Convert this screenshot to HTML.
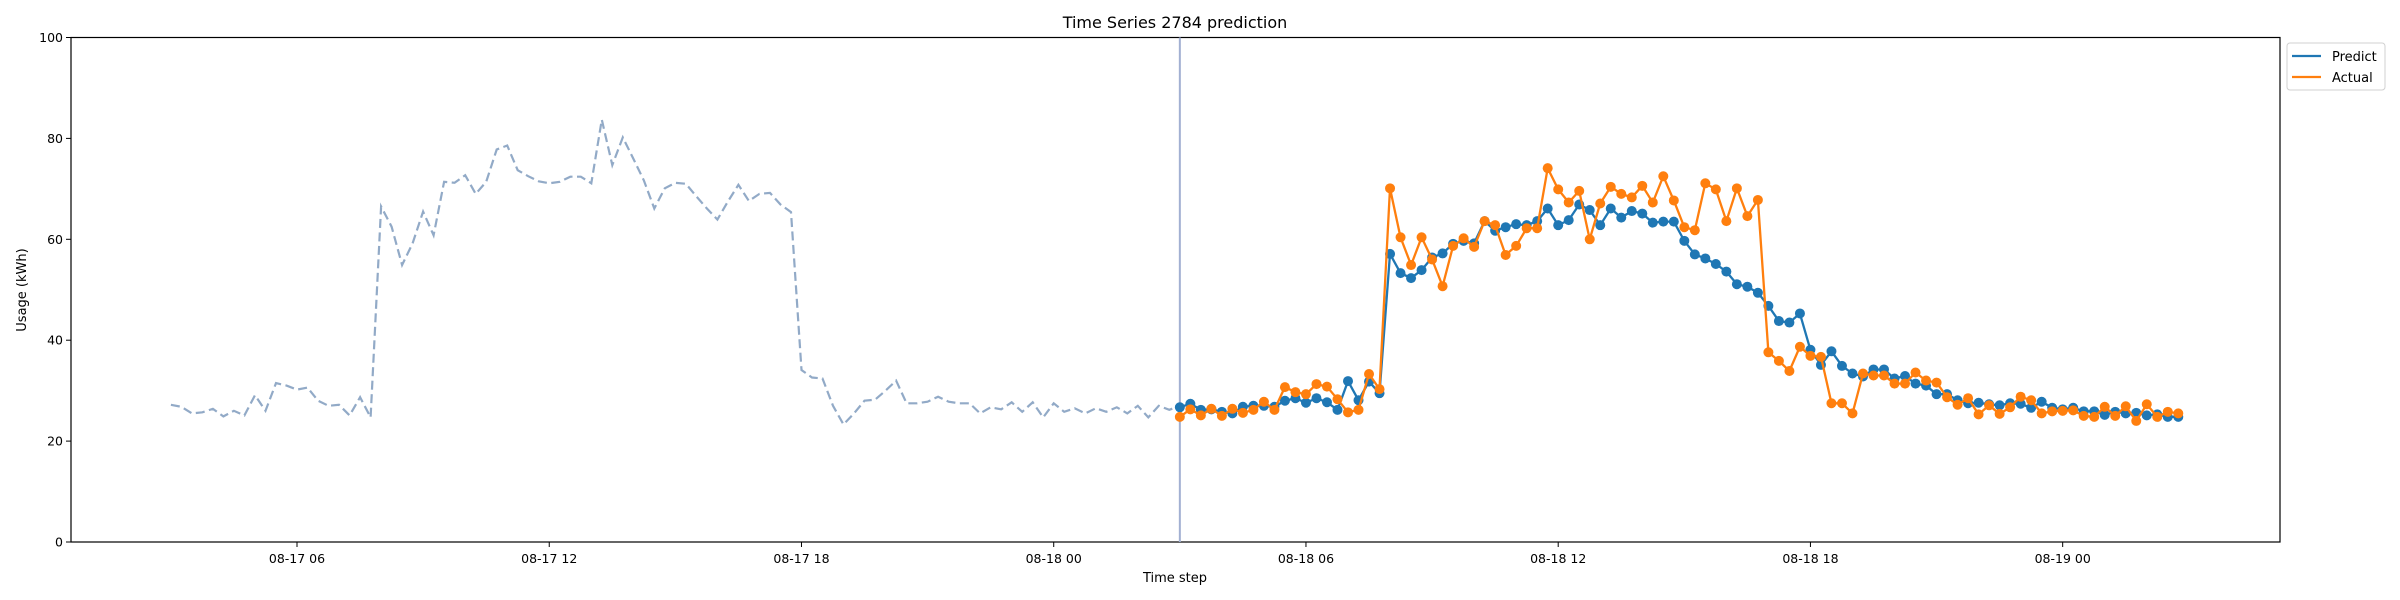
<!DOCTYPE html>
<html>
<head>
<meta charset="utf-8">
<style>
  html,body{margin:0;padding:0;background:#fff;}
  svg{display:block;font-family:"DejaVu Sans","Liberation Sans",sans-serif;}
</style>
</head>
<body>
<svg id="chart" width="2400" height="600" viewBox="0 0 2400 600" xmlns="http://www.w3.org/2000/svg">
  <rect x="0" y="0" width="2400" height="600" fill="#fff"/>
  <text x="1175" y="28" text-anchor="middle" font-size="16" fill="#000">Time Series 2784 prediction</text>
  <g id="plot"></g>
  <text x="1175" y="582" text-anchor="middle" font-size="13" fill="#000">Time step</text>
  <text x="0" y="0" transform="translate(26,290) rotate(-90)" text-anchor="middle" font-size="13" fill="#000">Usage (kWh)</text>
  <g>
    <rect x="2287" y="43" width="98" height="47" rx="3" fill="#fff" stroke="#d0d0d0" stroke-width="1"/>
    <g>
      <line x1="2292" y1="56" x2="2321" y2="56" stroke="#1f77b4" stroke-width="2.2"/>
      <text x="2332" y="61" font-size="13" fill="#000">Predict</text>
    </g>
    <g>
      <line x1="2292" y1="77" x2="2321" y2="77" stroke="#ff7f0e" stroke-width="2.2"/>
      <text x="2332" y="82" font-size="13" fill="#000">Actual</text>
    </g>
  </g>
</svg>
<script>
// history: 15-min steps starting 08-17 03:00
const historyValues = [27.2,26.8,25.5,25.7,26.4,24.9,26.0,25.1,29.1,26.0,31.5,31.0,30.2,30.6,28.0,27.0,27.2,25.1,28.7,24.7,
66.5,62.5,54.9,59.2,65.5,60.8,71.4,71.2,72.7,69.0,71.4,77.8,78.6,73.7,72.5,71.5,71.1,71.4,72.4,72.4,
71.1,83.7,74.7,80.2,76.0,71.7,66.1,70.1,71.2,71.0,68.5,66.1,63.9,67.5,70.8,67.6,69.0,69.2,66.9,65.4,
34.1,32.6,32.4,27.0,23.3,25.5,28.0,28.2,30.0,32.0,27.5,27.5,27.8,28.8,27.8,27.5,27.5,25.5,26.7,26.3,
27.7,25.8,27.7,24.7,27.5,25.8,26.5,25.5,26.5,25.8,26.7,25.5,27.0,24.7,27.0,26.2,27.0];
// forecast: 15-min steps starting 08-18 03:00
const predictValues = [26.7,27.4,26.2,26.3,25.8,25.5,26.8,27.0,27.0,26.8,28.0,28.5,27.6,28.5,27.7,26.2,31.9,28.1,31.8,29.5,
57.1,53.3,52.3,53.9,56.4,57.2,59.1,59.7,59.2,63.6,61.7,62.4,63.0,62.8,63.6,66.1,62.8,63.8,66.9,65.8,
62.8,66.1,64.3,65.6,65.1,63.3,63.5,63.5,59.7,57.0,56.2,55.1,53.6,51.1,50.6,49.4,46.8,43.8,43.5,45.3,
38.1,35.1,37.8,34.9,33.4,32.8,34.2,34.2,32.4,32.9,31.4,31.0,29.3,29.3,28.1,27.5,27.6,27.3,27.1,27.5,
27.4,26.6,27.8,26.6,26.3,26.6,25.9,25.9,25.2,25.8,25.5,25.6,25.1,25.3,24.8,24.8];
const actualValues = [24.8,26.3,25.1,26.4,25.0,26.4,25.6,26.2,27.8,26.2,30.7,29.7,29.3,31.3,30.8,28.3,25.7,26.2,33.3,30.3,
70.1,60.4,54.9,60.4,56.0,50.7,58.7,60.2,58.5,63.6,62.8,56.9,58.7,62.2,62.2,74.1,69.9,67.3,69.6,60.0,
67.1,70.4,69.0,68.3,70.6,67.3,72.5,67.7,62.4,61.8,71.1,69.9,63.6,70.1,64.6,67.8,37.6,35.9,33.9,38.7,
36.9,36.7,27.5,27.5,25.5,33.4,33.0,33.0,31.4,31.4,33.6,32.0,31.6,28.7,27.2,28.5,25.3,27.1,25.4,26.7,
28.8,28.1,25.5,25.9,26.0,26.1,25.0,24.8,26.8,25.0,26.9,24.0,27.3,24.8,25.8,25.5];
const historyStartHour = 3;   // hours after 08-17 00:00
const forecastStartHour = 27;
const yTickValues = [0,20,40,60,80,100];
const xTickHours = [6,12,18,24,30,36,42,48];
const xTickLabels = ["08-17 06","08-17 12","08-17 18","08-18 00","08-18 06","08-18 12","08-18 18","08-19 00"];

const NS = "http://www.w3.org/2000/svg";
const L = 71, R = 2280, T = 37.5, B = 542;
function xScale(h){ return 297 + (h - 6) * 42.04; }
function yScale(v){ return B - (v / 100) * (B - T); }
const plot = document.getElementById('plot');
function mk(tag, attrs, parent){
  const e = document.createElementNS(NS, tag);
  for (const k in attrs) e.setAttribute(k, attrs[k]);
  (parent || plot).appendChild(e);
  return e;
}

const frame = mk('rect', {x:L, y:T, width:R-L, height:B-T, fill:'none', stroke:'#000', 'stroke-width':1.2});



yTickValues.forEach(v => {
  const y = yScale(v);
  const t = mk('line', {x1:L-5, y1:y, x2:L, y2:y, stroke:'#000', 'stroke-width':1});
  
  
  const lb = mk('text', {x:L-8, y:y+4.5, 'text-anchor':'end', 'font-size':12.5, fill:'#000'});
  lb.textContent = v;
  
  
});
xTickHours.forEach((h, i) => {
  const x = xScale(h);
  const t = mk('line', {x1:x, y1:B, x2:x, y2:B+5, stroke:'#000', 'stroke-width':1});
  
  
  const lb = mk('text', {x:x, y:B+21, 'text-anchor':'middle', 'font-size':12.5, fill:'#000'});
  lb.textContent = xTickLabels[i];
  
  
});

const vx = xScale(forecastStartHour);
const vl = mk('line', {x1:vx, y1:T, x2:vx, y2:B, stroke:'#a2b0d2', 'stroke-width':2});



const hp = historyValues.map((v, i) => xScale(historyStartHour + 0.25*i).toFixed(1) + ',' + yScale(v).toFixed(1)).join(' ');
const hl = mk('polyline', {points:hp, fill:'none', stroke:'#92aac7', 'stroke-width':2.2, 'stroke-dasharray':'9,4.5'});



function series(vals, color, name){
  const g = mk('g', {});
  
  
  const pts = vals.map((v, j) => xScale(forecastStartHour + 0.25*j).toFixed(1) + ',' + yScale(v).toFixed(1)).join(' ');
  const pl = mk('polyline', {points:pts, fill:'none', stroke:color, 'stroke-width':2.3}, g);
  
  
  vals.forEach((v, j) => {
    const c = mk('circle', {cx:xScale(forecastStartHour + 0.25*j), cy:yScale(v), r:5, fill:color}, g);
    
    
  });
}
series(predictValues, '#1f77b4', 'predict');
series(actualValues, '#ff7f0e', 'actual');
</script>
</body>
</html>
